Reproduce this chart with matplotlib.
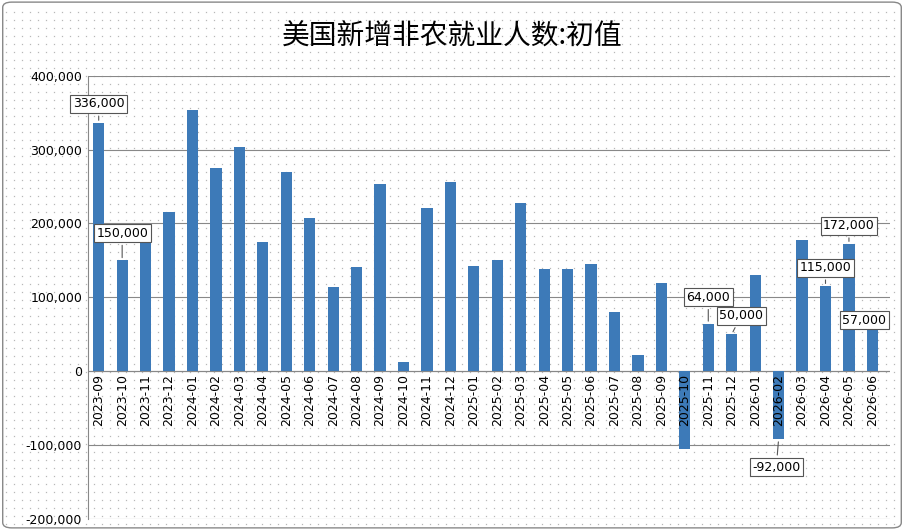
import numpy as np
import matplotlib.pyplot as plt
from matplotlib.patches import FancyBboxPatch

plt.rcParams['font.family'] = ['Noto Sans CJK SC', 'DejaVu Sans']

months = ['2023-09', '2023-10', '2023-11', '2023-12', '2024-01', '2024-02', '2024-03',
          '2024-04', '2024-05', '2024-06', '2024-07', '2024-08', '2024-09', '2024-10',
          '2024-11', '2024-12', '2025-01', '2025-02', '2025-03', '2025-04', '2025-05',
          '2025-06', '2025-07', '2025-08', '2025-09', '2025-10', '2025-11', '2025-12',
          '2026-01', '2026-02', '2026-03', '2026-04', '2026-05', '2026-06']
values = [336000, 150000, 173000, 216000, 353000, 275000, 303000,
          175000, 270000, 207000, 114000, 141000, 253000, 12000,
          221000, 256000, 142000, 150000, 228000, 139000, 139000,
          145000, 80000, 22000, 119000, -105000, 64000, 50000,
          130000, -92000, 178000, 115000, 172000, 57000]
# labelled points: index -> label offset (dx in bars, dy in values)
callouts = {0: (0, 26000), 1: (0, 37000), 26: (0, 36000), 27: (0.4, 25000),
            29: (-0.1, -38000), 31: (0, 25000), 32: (0, 25000), 33: (-0.35, 12000)}

fig = plt.figure(figsize=(9.04, 5.30), dpi=100)
bg = FancyBboxPatch((0.003, 0.004), 0.994, 0.992, boxstyle='round,pad=0,rounding_size=0.01',
                    transform=fig.transFigure, facecolor='white', edgecolor='#888888',
                    linewidth=1.0, zorder=-10)
fig.patches.append(bg)
# dotted background texture
gx, gy = np.meshgrid(np.arange(6, 900, 8) / 904, np.arange(6, 526, 8) / 530)
fig.add_artist(plt.Line2D(gx.ravel(), gy.ravel(), ls='none', marker='s', ms=0.9, mew=0,
                          color='#b8b8b8', transform=fig.transFigure, zorder=-5))

ax = fig.add_axes([0.097, 0.021, 0.888, 0.836])
ax.patch.set_alpha(0)

x = np.arange(len(months))
ax.bar(x, values, width=0.48, color='#3d7ab8', zorder=3)
ax.set_xlim(-0.47, len(months) - 0.23)
ax.set_ylim(-200000, 400000)
ax.set_yticks(np.arange(-200000, 400001, 100000))
ax.set_yticklabels(['{:,}'.format(v) for v in range(-200000, 400001, 100000)], fontsize=9, family='DejaVu Sans')
ax.yaxis.grid(True, color='#888888', linewidth=0.8, zorder=0)
ax.set_xticks([])
ax.tick_params(axis='y', length=0, pad=4)
for s in ['top', 'right', 'bottom']:
    ax.spines[s].set_visible(False)
ax.spines['left'].set_color('#888888')
ax.axhline(0, color='#888888', linewidth=0.8, zorder=2)

for i, m in enumerate(months):
    ax.text(i, -4000, m, rotation=90, ha='center', va='top', fontsize=9, family='DejaVu Sans', zorder=4)

for i, (dx, dy) in callouts.items():
    v = values[i]
    ax.annotate('{:,}'.format(v), xy=(i, v), xytext=(i + dx, v + dy), ha='center', va='center',
                fontsize=9, family='DejaVu Sans', zorder=5,
                bbox=dict(boxstyle='square,pad=0.2', fc='white', ec='#555555', lw=0.8),
                arrowprops=dict(arrowstyle='-', color='#555555', lw=0.8))

fig.text(0.5, 0.93, '美国新增非农就业人数:初值', ha='center', va='center', fontsize=20)
fig.savefig('out.png', dpi=100)
